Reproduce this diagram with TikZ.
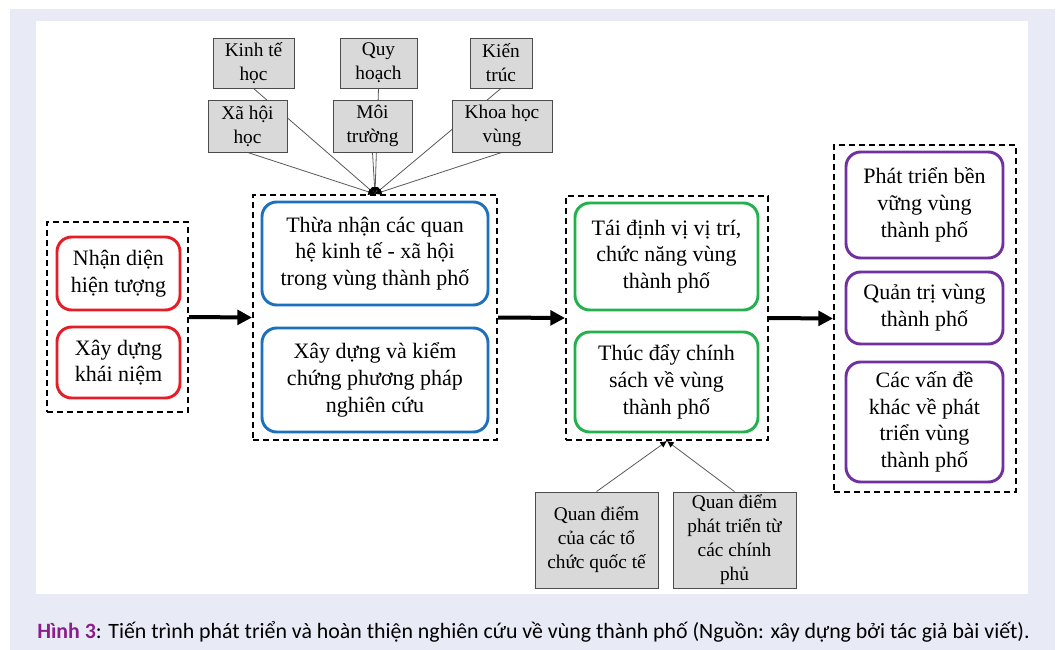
\documentclass[tikz,border=0pt]{standalone}
\usepackage{fontspec}
\setmainfont{Liberation Serif}
\newfontfamily\capfont{Carlito}
\usetikzlibrary{arrows.meta}
\pgfdeclarelayer{bg}
\pgfdeclarelayer{background}
\pgfsetlayers{bg,background,main}
\definecolor{lav}{RGB}{232,235,246}
\definecolor{cred}{RGB}{228,30,38}
\definecolor{cblue}{RGB}{28,112,190}
\definecolor{cgreen}{RGB}{34,177,76}
\definecolor{cpurple}{RGB}{112,48,160}
\definecolor{gfill}{RGB}{217,217,217}
\definecolor{capcol}{RGB}{140,30,140}
\tikzset{
  sz/.style 2 args={minimum width=#1*0.75pt, minimum height=#2*0.75pt, inner sep=0pt, align=center},
  grp/.style={draw=black, line width=1.5pt, dash pattern=on 4.5pt off 3pt},
  cbox/.style={draw=#1, line width=2.2pt, rounded corners=11pt, fill=white,
    font=\fontsize{16.5}{20}\selectfont},
  gbox/.style={draw=black!70, line width=0.6pt, fill=gfill, font=\fontsize{14.5}{18}\selectfont},
  bigarrow/.style={line width=3pt, -{Triangle[length=11pt,width=11pt]}},
  thin/.style={draw=black!65, line width=0.6pt, -{Latex[length=5pt,width=5pt,color=black]}},
}
\begin{document}
\begin{tikzpicture}[x=0.75pt,y=-0.75pt]
\useasboundingbox (0,0) rectangle (1058,650);
\begin{pgfonlayer}{bg}
  \fill[lav] (10,9) rectangle (1055,650);
  \fill[white] (36,21) rectangle (1028,594);
\end{pgfonlayer}
% groups
\node[grp, sz={141}{190}] (g1) at (117.5,317) {};
\node[grp, sz={244}{245}] (g2) at (375,317.5) {};
\node[grp, sz={202}{244}] (g3) at (667,318) {};
\node[grp, sz={182}{347}] (g4) at (925,318.5) {};
% red
\node[cbox=cred, sz={123}{73}] (r1) at (118.5,273.5) {Nhận diện\\hiện tượng};
\node[cbox=cred, sz={123}{71}] (r2) at (118.5,362.5) {Xây dựng\\khái niệm};
% blue
\node[cbox=cblue, sz={226}{103}] (b1) at (375,253.5) {Thừa nhận các quan\\hệ kinh tế - xã hội\\trong vùng thành phố};
\node[cbox=cblue, sz={226}{104}] (b2) at (375,380) {Xây dựng và kiểm\\chứng phương pháp\\nghiên cứu};
% green
\node[cbox=cgreen, sz={183}{107}] (gr1) at (666.5,256.5) {Tái định vị vị trí,\\chức năng vùng\\thành phố};
\node[cbox=cgreen, sz={183}{100}] (gr2) at (666.5,382) {Thúc đẩy chính\\sách về vùng\\thành phố};
% purple
\node[cbox=cpurple, sz={157}{106}] (p1) at (924.5,205) {Phát triển bền\\vững vùng\\thành phố};
\node[cbox=cpurple, sz={157}{72}] (p2) at (924.5,308) {Quản trị vùng\\thành phố};
\node[cbox=cpurple, sz={157}{120}] (p3) at (924.5,422) {Các vấn đề\\khác về phát\\triển vùng\\thành phố};
% gray top
\node[gbox, sz={81}{50}] (kt) at (253.5,63) {Kinh tế\\học};
\node[gbox, sz={77}{50}] (qh) at (378.5,63) {Quy\\hoạch};
\node[gbox, sz={62}{50}] (ktr) at (501,63) {Kiến\\trúc};
\node[gbox, sz={79}{52}] (xh) at (247.5,126) {Xã hội\\học};
\node[gbox, sz={79}{52}] (mt) at (372.5,126) {Môi\\trường};
\node[gbox, sz={100}{52}] (khv) at (502,126) {Khoa học\\vùng};
% gray bottom
\node[gbox, sz={123}{96}] (q1) at (596.5,540) {Quan điểm\\của các tổ\\chức quốc tế};
\node[gbox, sz={123}{96}] (q2) at (734.5,540) {Quan điểm\\phát triển từ\\các chính\\phủ};
% thin connectors
\coordinate (jt) at (g2.north);
\coordinate (jb) at (g3.south);
\begin{pgfonlayer}{background}
  \foreach \n in {kt,qh,ktr,xh,mt,khv} \draw[thin] (\n.south) -- (jt);
  \foreach \n in {q1,q2} \draw[thin] (\n.north) -- (jb);
\end{pgfonlayer}
% big arrows
\draw[bigarrow] (g1.east) -- (g2.west);
\draw[bigarrow] (g2.east) -- (g3.west);
\draw[bigarrow] (g3.east) -- (g4.west);
% caption
\node[anchor=west, inner sep=0pt, font=\capfont\fontsize{16.4}{18}\selectfont] (cap) at (37,632)
  {\textbf{\color{capcol}Hình 3}: Tiến trình phát triển và hoàn thiện nghiên cứu về vùng thành phố (Nguồn: xây dựng bởi tác giả bài viết).};
\end{tikzpicture}
\end{document}
